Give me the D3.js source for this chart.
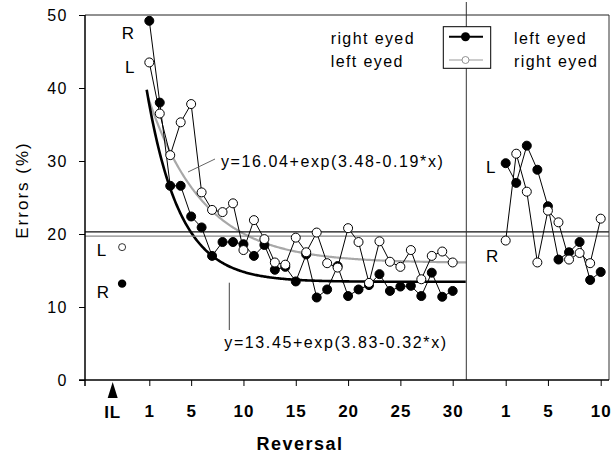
<!DOCTYPE html>
<html>
<head>
<meta charset="utf-8">
<script src="https://cdn.jsdelivr.net/npm/d3@7"></script>
<style>
  body { margin: 0; background: #fff; }
  text { font-family: "Liberation Sans", Arial, sans-serif; fill: #000; }
</style>
</head>
<body>
<svg id="chart" width="615" height="453"></svg>
<script>
// Valores (erros em %)
const reversals = d3.range(1, 31);
const filledMain = [49.2, 38.0, 26.6, 26.6, 22.4, 20.9, 17.0, 18.9, 18.9, 18.6,
                    17.0, 18.5, 15.1, 15.5, 13.5, 17.2, 11.3, 12.4, 15.6, 11.5,
                    12.4, 13.0, 14.5, 12.2, 12.8, 12.9, 11.5, 14.7, 11.4, 12.2];
const openMain = [43.5, 36.5, 30.8, 35.3, 37.8, 25.7, 23.3, 23.0, 24.2, 17.8,
                  21.9, 19.3, 16.1, 15.8, 19.5, 17.5, 20.2, 16.0, 15.4, 20.8,
                  18.9, 13.3, 19.0, 16.2, 15.5, 17.8, 13.8, 17.0, 17.6, 16.1];

const reversals2 = d3.range(1, 11);
const filledRight = [29.7, 27.0, 32.1, 28.8, 23.8, 16.5, 17.5, 18.9, 13.7, 14.8];
const openRight = [19.1, 31.0, 25.8, 16.1, 23.2, 21.6, 16.5, 17.4, 16.0, 22.1];

// IL (aprendizagem inicial)
const ilFilled = 13.2;
const ilOpen = 18.2;

// linhas de critério
const criterionLines = [20.3, 19.7];

// ajustes exponenciais
const fitFilled = {a: 13.45, b: 3.83, c: 0.32, from: 0.75, label: "y=13.45+exp(3.83-0.32*x)"};
const fitOpen = {a: 16.04, b: 3.48, c: 0.19, from: 0.9, label: "y=16.04+exp(3.48-0.19*x)"};
const fitEnd = 31.3;

const mainTicks = [1, 5, 10, 15, 20, 25, 30];
const rightTicks = [1, 5, 10];
const yTicks = [0, 10, 20, 30, 40, 50];

const svg = d3.select("#chart");
const plotLeft = 85, plotRight = 609, plotTop = 15, plotBottom = 380;

const y = d3.scaleLinear().domain([0, 50]).range([plotBottom, plotTop]);
const x = d3.scaleLinear().domain([1, 30]).range([149.3, 452.7]);
const x2 = d3.scaleLinear().domain([1, 10]).range([505.7, 600.7]);
const ilTickPos = -2.5, ilPointPos = -1.6;

// curvas ajustadas (atrás de tudo)
function fitLine(f) {
    const pts = d3.range(f.from, fitEnd + 0.001, 0.1).map(r => [r, f.a + Math.exp(f.b - f.c * (r + 1))]);
    return d3.line().x(d => x(d[0])).y(d => y(d[1]))(pts);
}
svg.append("path").attr("d", fitLine(fitOpen))
    .attr("fill", "none").attr("stroke", "#a8a8a8").attr("stroke-width", 2.2);
svg.append("path").attr("d", fitLine(fitFilled))
    .attr("fill", "none").attr("stroke", "#000").attr("stroke-width", 2.6);

// linhas de critério
svg.selectAll(".crit")
    .data(criterionLines)
    .join("line")
    .attr("class", "crit")
    .attr("x1", plotLeft).attr("x2", plotRight)
    .attr("y1", d => y(d)).attr("y2", d => y(d))
    .attr("stroke", (d, i) => i === 0 ? "#111" : "#888")
    .attr("stroke-width", 1.3);

// moldura
svg.append("line").attr("x1", plotLeft).attr("x2", plotRight).attr("y1", plotTop).attr("y2", plotTop)
    .attr("stroke", "#222").attr("stroke-width", 1);
svg.append("line").attr("x1", plotRight).attr("x2", plotRight).attr("y1", plotTop).attr("y2", plotBottom)
    .attr("stroke", "#333").attr("stroke-width", 1);
svg.append("line").attr("x1", x(fitEnd)).attr("x2", x(fitEnd)).attr("y1", 2).attr("y2", plotBottom)
    .attr("stroke", "#333").attr("stroke-width", 1);
svg.append("line").attr("x1", plotLeft).attr("x2", plotLeft).attr("y1", plotTop).attr("y2", plotBottom + 6)
    .attr("stroke", "#000").attr("stroke-width", 1.5);
svg.append("line").attr("x1", plotLeft - 6).attr("x2", plotRight).attr("y1", plotBottom).attr("y2", plotBottom)
    .attr("stroke", "#000").attr("stroke-width", 1.5);

// eixo Y
const yAxis = svg.append("g")
    .attr("transform", `translate(${plotLeft},0)`)
    .call(d3.axisLeft(y).tickValues(yTicks).tickSize(6).tickPadding(11));
yAxis.select(".domain").remove();
yAxis.selectAll("text").style("font-size", "16px").style("letter-spacing", "1.5px")
    .attr("dy", "0.36em");

svg.append("text")
    .attr("transform", "translate(28,190) rotate(-90)")
    .attr("text-anchor", "middle")
    .style("font-size", "17px").style("letter-spacing", "2px")
    .text("Errors (%)");

// eixos X
function styleX(g) {
    g.select(".domain").remove();
    g.selectAll("text").style("font-size", "17px").style("font-weight", "bold")
        .style("letter-spacing", "1px");
}
svg.append("g").attr("transform", `translate(0,${plotBottom})`)
    .call(d3.axisBottom(x).tickValues(mainTicks).tickSize(6).tickPadding(19))
    .call(styleX);
svg.append("g").attr("transform", `translate(0,${plotBottom})`)
    .call(d3.axisBottom(x2).tickValues(rightTicks).tickSize(6).tickPadding(19))
    .call(styleX);

// seta e rótulo IL
const ilX = x(ilTickPos);
svg.append("path")
    .attr("d", `M${ilX},${plotBottom + 2} L${ilX - 5},${plotBottom + 18} L${ilX + 5},${plotBottom + 18} Z`)
    .attr("fill", "#000");
svg.append("text").attr("x", ilX).attr("y", 418).attr("text-anchor", "middle")
    .style("font-size", "17px").style("font-weight", "bold").style("letter-spacing", "1px")
    .text("IL");

svg.append("text").attr("x", 300).attr("y", 450).attr("text-anchor", "middle")
    .style("font-size", "18px").style("font-weight", "bold").style("letter-spacing", "1.5px")
    .text("Reversal");

// séries
function drawSeries(xs, scaleX, values, filled) {
    const pts = xs.map((r, i) => ({r, v: values[i]}));
    svg.append("path")
        .attr("d", d3.line().x(d => scaleX(d.r)).y(d => y(d.v))(pts))
        .attr("fill", "none").attr("stroke", "#000").attr("stroke-width", 1);
    svg.append("g").selectAll("circle")
        .data(pts)
        .join("circle")
        .attr("cx", d => scaleX(d.r))
        .attr("cy", d => y(d.v))
        .attr("r", 4.5)
        .attr("fill", filled ? "#000" : "#fff")
        .attr("stroke", "#000")
        .attr("stroke-width", 1);
}
drawSeries(reversals, x, filledMain, true);
drawSeries(reversals, x, openMain, false);
drawSeries(reversals2, x2, filledRight, true);
drawSeries(reversals2, x2, openRight, false);

svg.append("circle").attr("cx", x(ilPointPos)).attr("cy", y(ilOpen)).attr("r", 3.5)
    .attr("fill", "#fff").attr("stroke", "#000").attr("stroke-width", 0.8);
svg.append("circle").attr("cx", x(ilPointPos)).attr("cy", y(ilFilled)).attr("r", 4.2)
    .attr("fill", "#000");

// rótulos R / L
const letter = (tx, ty, t) => svg.append("text").attr("x", tx).attr("y", ty)
    .style("font-size", "17px").text(t);
letter(121.7, 39.3, "R");
letter(125, 73.3, "L");
letter(96.7, 256, "L");
letter(96.7, 298, "R");
letter(486, 172.7, "L");
letter(486, 261.7, "R");

// equações
svg.append("line").attr("x1", 188).attr("y1", 172).attr("x2", 215).attr("y2", 159)
    .attr("stroke", "#666").attr("stroke-width", 1);
svg.append("text").attr("x", 221).attr("y", 166.7)
    .style("font-size", "16px").style("letter-spacing", "1.6px").text(fitOpen.label);
svg.append("line").attr("x1", 229.3).attr("y1", 282.7).attr("x2", 229.3).attr("y2", 330)
    .attr("stroke", "#444").attr("stroke-width", 1);
svg.append("text").attr("x", 224.3).attr("y", 348.3)
    .style("font-size", "16px").style("letter-spacing", "1.6px").text(fitFilled.label);

// legenda
const legend = svg.append("g");
legend.append("rect").attr("x", 443.3).attr("y", 26.7).attr("width", 47.4).attr("height", 41.6)
    .attr("fill", "#fff").attr("stroke", "#000").attr("stroke-width", 1);
legend.append("line").attr("x1", 449).attr("x2", 483).attr("y1", 36.7).attr("y2", 36.7)
    .attr("stroke", "#000").attr("stroke-width", 2);
legend.append("circle").attr("cx", 465.5).attr("cy", 36.7).attr("r", 4.5).attr("fill", "#000");
legend.append("line").attr("x1", 449).attr("x2", 483).attr("y1", 60).attr("y2", 60)
    .attr("stroke", "#999").attr("stroke-width", 1);
legend.append("circle").attr("cx", 465.5).attr("cy", 60).attr("r", 3.5)
    .attr("fill", "#fff").attr("stroke", "#777").attr("stroke-width", 0.8);

const legText = (tx, ty, t) => legend.append("text").attr("x", tx).attr("y", ty)
    .style("font-size", "16px").style("letter-spacing", "1.4px").text(t);
legText(330.7, 44, "right eyed");
legText(330.7, 66.7, "left eyed");
legText(514, 44, "left eyed");
legText(514, 66.7, "right eyed");
</script>
</body>
</html>
